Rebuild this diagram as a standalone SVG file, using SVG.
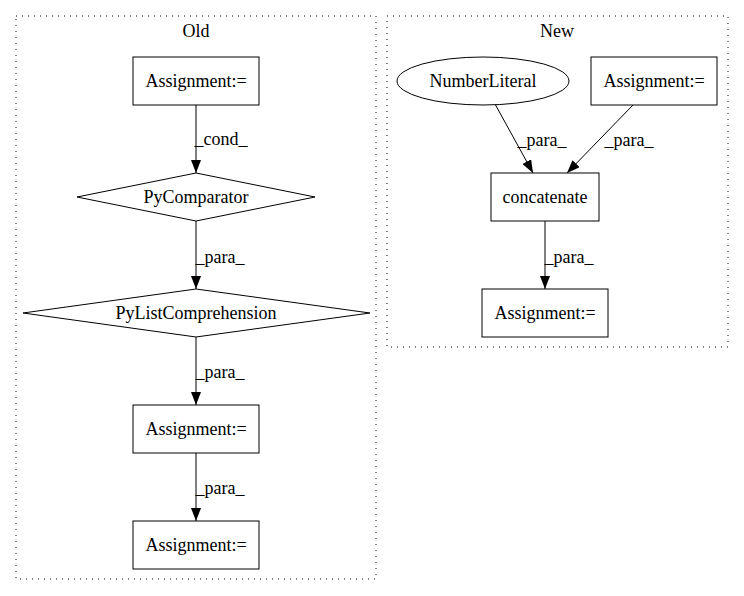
<svg xmlns="http://www.w3.org/2000/svg" width="744" height="596" viewBox="0 0 744 596">
<style>
text{font-family:"Liberation Serif","Times New Roman",serif;font-size:18px;fill:#000;text-anchor:middle}
.cl{fill:none;stroke:#000;stroke-width:1;stroke-dasharray:1,5}
.n{fill:#fff;stroke:#000;stroke-width:1}
.e{fill:none;stroke:#000;stroke-width:1}
</style>
<defs>
<marker id="ah" markerUnits="userSpaceOnUse" viewBox="0 0 13 10" refX="13" refY="5" markerWidth="13" markerHeight="10" orient="auto">
<path d="M0,0 L13,5 L0,10 z" fill="#000"/>
</marker>
</defs>
<rect width="744" height="596" fill="#fff"/>
<g id="cluster_old">
<rect class="cl" x="16" y="16" width="360" height="563"/>
<text x="196" y="37">Old</text>
</g>
<g id="cluster_new">
<rect class="cl" x="387" y="16" width="341" height="331"/>
<text x="557" y="37">New</text>
</g>
<g id="connectors">
<path class="e" d="M196,105 L196,173" marker-end="url(#ah)"/>
<text x="221" y="145">_cond_</text>
<path class="e" d="M196,221 L196,289" marker-end="url(#ah)"/>
<text x="220" y="263">_para_</text>
<path class="e" d="M196,337 L196,405" marker-end="url(#ah)"/>
<text x="220" y="378">_para_</text>
<path class="e" d="M196,453 L196,521" marker-end="url(#ah)"/>
<text x="220" y="494">_para_</text>
<path class="e" d="M495,104 L533,173" marker-end="url(#ah)"/>
<text x="542" y="146">_para_</text>
<path class="e" d="M633,105 L567,173" marker-end="url(#ah)"/>
<text x="629" y="146">_para_</text>
<path class="e" d="M545,221 L545,289" marker-end="url(#ah)"/>
<text x="569" y="263">_para_</text>
</g>
<g id="old_assign1">
<rect class="n" x="133" y="57" width="126" height="48"/>
<text x="196" y="87">Assignment:=</text>
</g>
<g id="old_pycomparator">
<polygon class="n" points="196,173 315,197 196,221 77,197"/>
<text x="196" y="203">PyComparator</text>
</g>
<g id="old_pylistcomp">
<polygon class="n" points="196,289 370,313 196,337 23,313"/>
<text x="196" y="319">PyListComprehension</text>
</g>
<g id="old_assign2">
<rect class="n" x="133" y="405" width="126" height="48"/>
<text x="196" y="435">Assignment:=</text>
</g>
<g id="old_assign3">
<rect class="n" x="133" y="521" width="126" height="48"/>
<text x="196" y="551">Assignment:=</text>
</g>
<g id="new_numberliteral">
<ellipse class="n" cx="483" cy="81" rx="86" ry="24"/>
<text x="483" y="87">NumberLiteral</text>
</g>
<g id="new_assign_top">
<rect class="n" x="591" y="57" width="126" height="48"/>
<text x="654" y="87">Assignment:=</text>
</g>
<g id="new_concatenate">
<rect class="n" x="491" y="173" width="108" height="48"/>
<text x="545" y="203">concatenate</text>
</g>
<g id="new_assign_bottom">
<rect class="n" x="482" y="289" width="126" height="48"/>
<text x="545" y="319">Assignment:=</text>
</g>
</svg>
